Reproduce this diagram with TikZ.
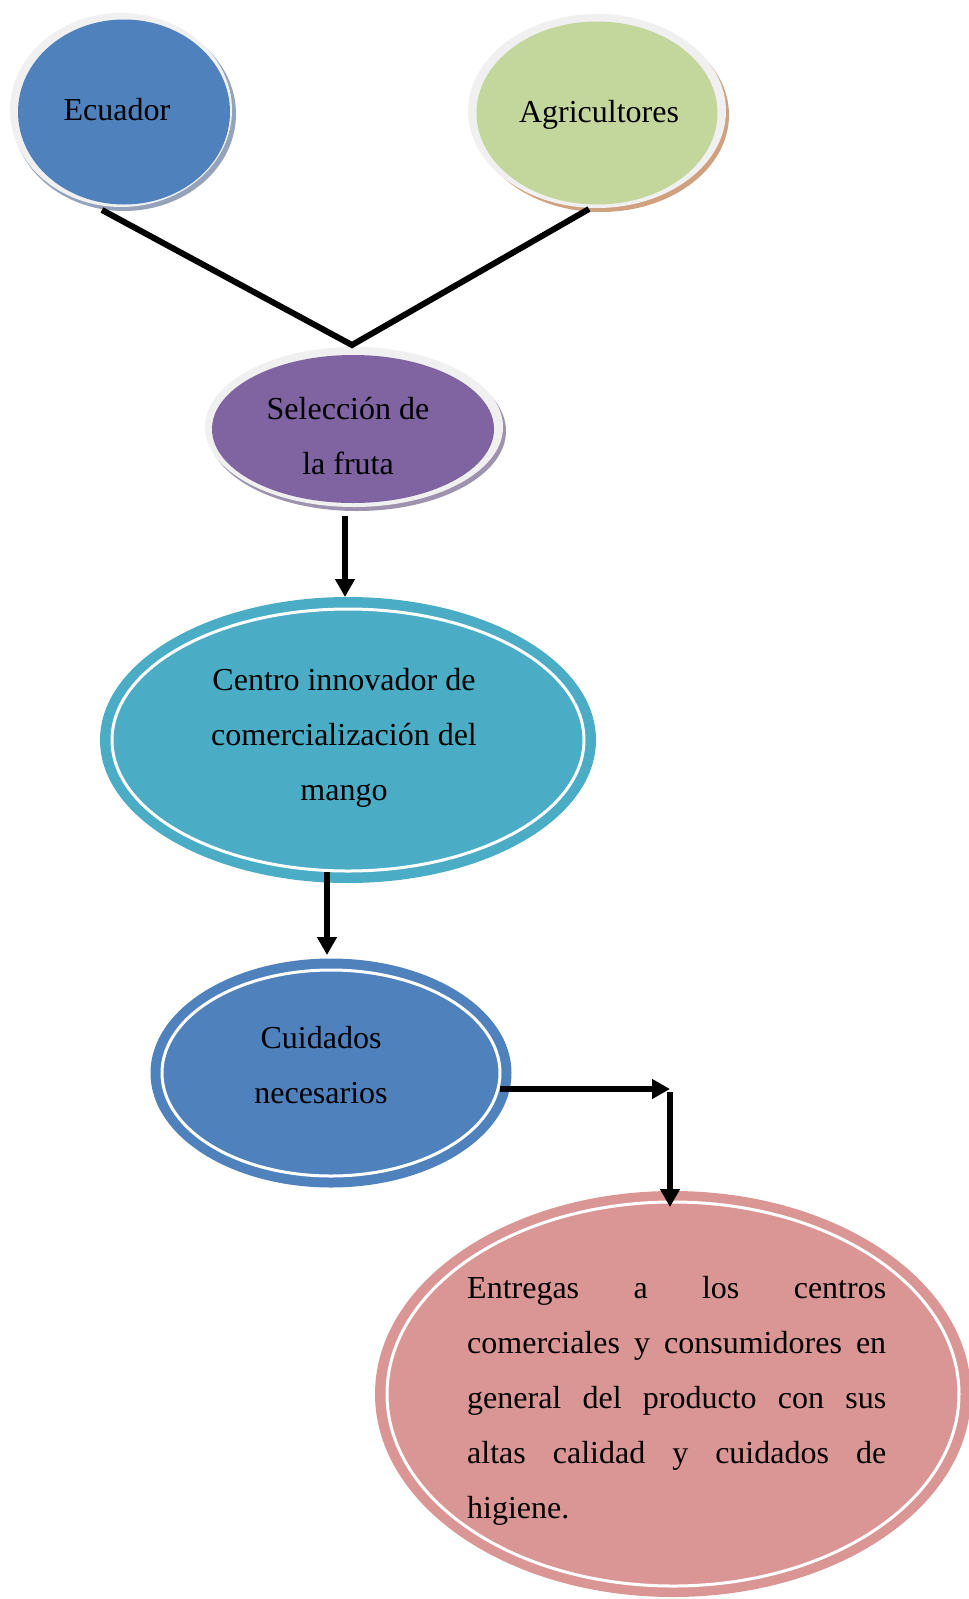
\documentclass[tikz,border=0pt]{standalone}
\usepackage{fontspec}
\setmainfont{Liberation Serif}
\usetikzlibrary{arrows.meta,shapes.geometric}

\definecolor{ecublue}{HTML}{4F81BD}
\definecolor{agrgreen}{HTML}{C3D69B}
\definecolor{selpurple}{HTML}{8064A2}
\definecolor{centeal}{HTML}{4BACC6}
\definecolor{entpink}{HTML}{D99694}
\definecolor{ringgrey}{HTML}{F0F0F0}
\definecolor{shblue}{HTML}{95A3BA}
\definecolor{shtan}{HTML}{CFA17E}
\definecolor{shpurple}{HTML}{9D93AE}

\tikzset{
  blob/.style={ellipse, inner sep=0pt, draw=none},
  label/.style={inner sep=0pt, align=center, font=\fontsize{32}{55}\selectfont},
  link/.style={line width=6pt, black},
  flow/.style={line width=6pt, black, -{Triangle[length=18pt,width=19pt]}},
}

\begin{document}
\begin{tikzpicture}[x=1pt,y=-1pt]
\useasboundingbox (0,0) rectangle (969,1599);

% Ecuador: shadow, grey rim, blue body
\fill[shblue] (124,114) ellipse [x radius=112, y radius=97];
\fill[ringgrey] (121,110) ellipse [x radius=111, y radius=97];
\node[blob, fill=ecublue, minimum width=212pt, minimum height=185pt] (ecu) at (124,112) {};
\node[label] (ecuT) at (117,110) {Ecuador};

% Agricultores
\fill[shtan] (601,115) ellipse [x radius=128, y radius=97];
\fill[ringgrey] (597,111) ellipse [x radius=129, y radius=97];
\node[blob, fill=agrgreen, minimum width=241pt, minimum height=183pt] (agr) at (597,113) {};
\node[label] (agrT) at (599,115) {Agricultores};

% Selección de la fruta
\fill[shpurple] (357,431) ellipse [x radius=149, y radius=80];
\fill[ringgrey] (354,427) ellipse [x radius=149, y radius=80];
\node[blob, fill=selpurple, minimum width=282pt, minimum height=148pt] (sel) at (353,429) {};
\node[label] (selT) at (348,436) {Selección de\\la fruta};

% Centro innovador
\node[blob, fill=centeal, minimum width=496pt, minimum height=286pt] (cen) at (348,740) {};
\draw[white, line width=3pt] (cen.center) ellipse [x radius=236, y radius=131];
\node[label] (cenT) at (344,738) {Centro innovador de\\comercialización del\\mango};

% Cuidados necesarios
\node[blob, fill=ecublue, minimum width=361pt, minimum height=229pt] (cui) at (331,1073) {};
\draw[white, line width=3pt] (cui.center) ellipse [x radius=169, y radius=103];
\node[label] (cuiT) at (321,1065) {Cuidados\\necesarios};

% Entregas
\node[blob, fill=entpink, minimum width=596pt, minimum height=406pt] (ent) at (673,1394) {};
\draw[white, line width=3pt] (ent.center) ellipse [x radius=286, y radius=192];
\node[inner sep=0pt, anchor=north west, text width=419pt, align=justify,
      font=\fontsize{32}{55}\selectfont] (entT) at (467,1276)
  {Entregas a los centros\linebreak comerciales y consumidores en\linebreak general del producto con sus\linebreak altas calidad y cuidados de\linebreak higiene.};

% Connectors
\coordinate (apex) at (352,345);
\coordinate (ecuFoot) at (102,210);
\coordinate (agrFoot) at (589,209);
\draw[link, line cap=butt] (ecuFoot) -- (apex) -- (agrFoot);

\coordinate (selOut) at (345,516);
\coordinate (cenIn) at (345,597);
\draw[flow] (selOut) -- (cenIn);

\coordinate (cenOut) at (327,872);
\coordinate (cuiIn) at (327,955);
\draw[flow] (cenOut) -- (cuiIn);

\coordinate (cuiOut) at (500,1089);
\coordinate (corner) at (670,1089);
\coordinate (entIn) at (670,1207);
\draw[flow] (cuiOut) -- (corner);
\draw[flow] ([yshift=-3pt]corner) -- (entIn);
\end{tikzpicture}
\end{document}
